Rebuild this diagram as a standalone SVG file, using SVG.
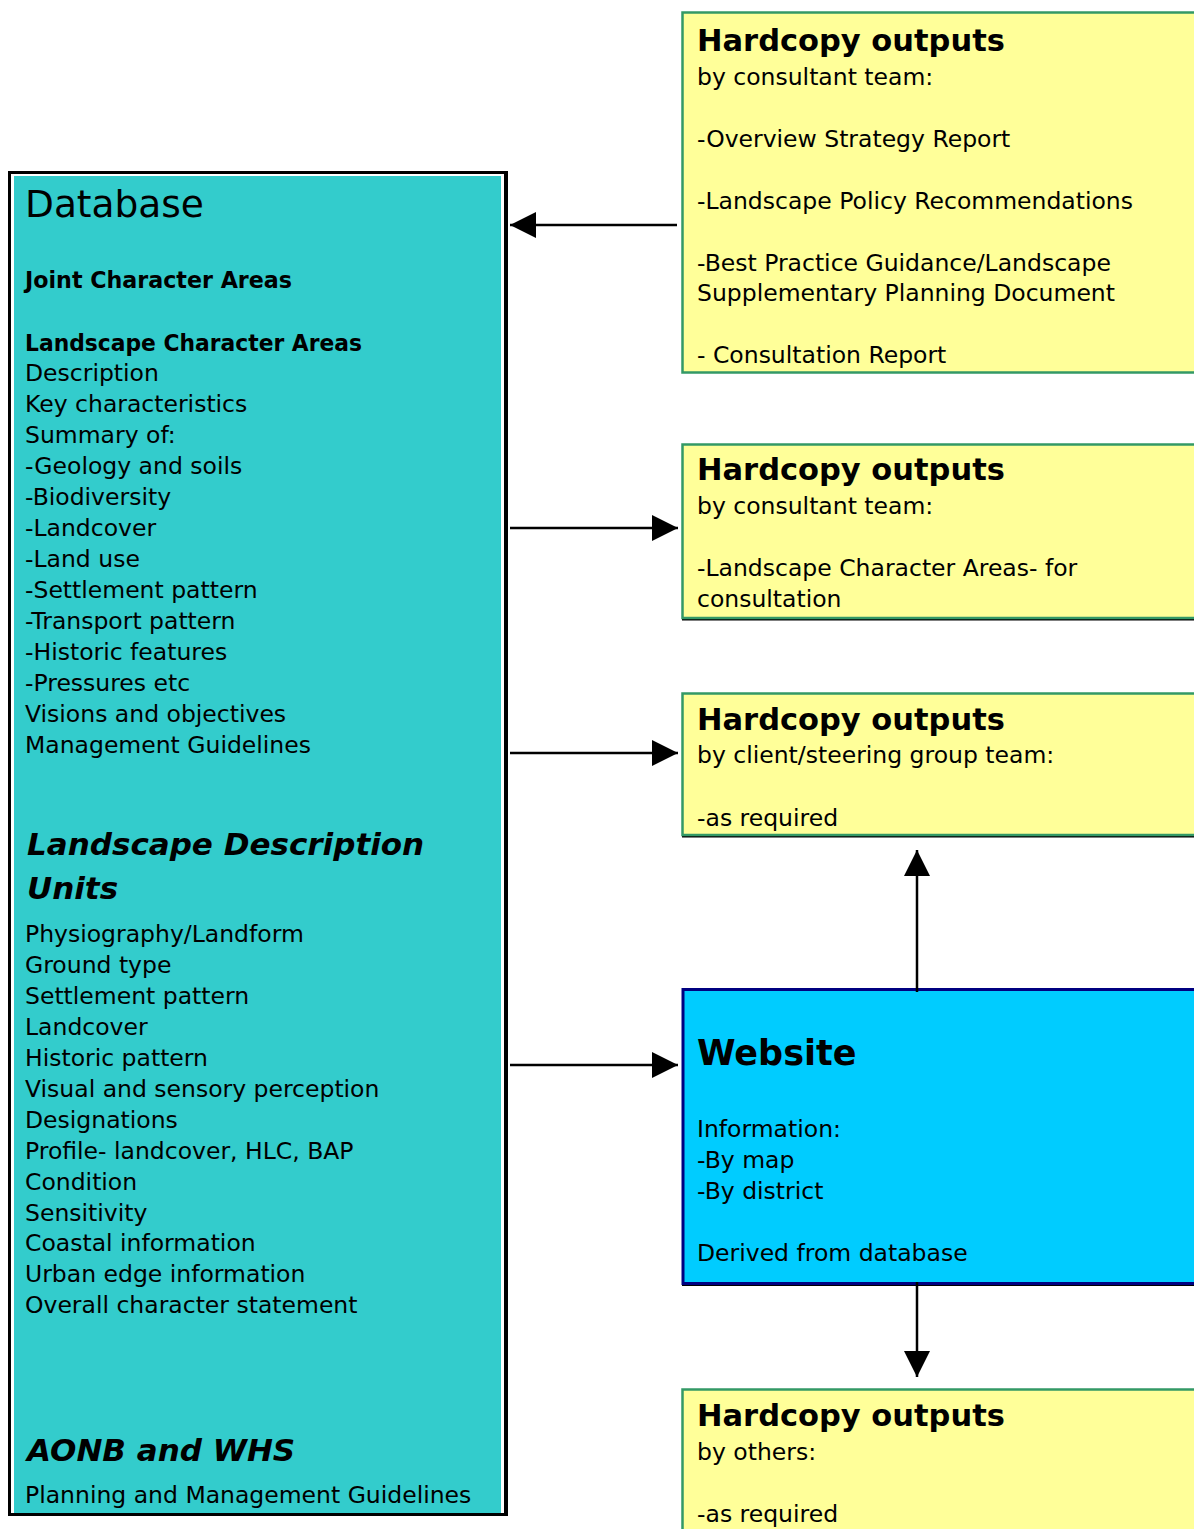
<svg xmlns="http://www.w3.org/2000/svg" width="1194" height="1529" viewBox="0 0 1194 1529">
<defs>
<style>
text{font-family:"DejaVu Sans","Liberation Sans",sans-serif;fill:#000}
.r{font-size:23.5px}
.b{font-size:22.2px;font-weight:bold}
.h{font-size:30.5px;font-weight:bold}
.bi{font-size:31px;font-weight:bold;font-style:italic}
.yel{fill:#FFFF99;stroke:#339966;stroke-width:2.5}
.conn line{stroke:#000;stroke-width:2.5}
</style>
<marker id="ah" markerUnits="userSpaceOnUse" markerWidth="27" markerHeight="27" refX="26" refY="13" orient="auto">
<path d="M0,0 L26,13 L0,26 z" fill="#000"/>
</marker>
</defs>
<rect width="1194" height="1529" fill="#fff"/>

<g id="database">
<rect x="8" y="171" width="500" height="1345" fill="#000"/>
<rect x="11" y="174" width="493" height="1339" fill="#fff"/>
<rect x="14" y="176" width="487" height="1337" fill="#33CCCC"/>
<text x="25" y="217" style="font-size:37.5px">Database</text>
<text x="25" y="288" class="b">Joint Character Areas</text>
<text x="25" y="351" class="b" textLength="337" lengthAdjust="spacingAndGlyphs">Landscape Character Areas</text>
<text class="r">
<tspan x="25" y="381">Description</tspan>
<tspan x="25" y="412">Key characteristics</tspan>
<tspan x="25" y="443">Summary of:</tspan>
<tspan x="25" y="474">-Geology and soils</tspan>
<tspan x="25" y="505">-Biodiversity</tspan>
<tspan x="25" y="536">-Landcover</tspan>
<tspan x="25" y="567">-Land use</tspan>
<tspan x="25" y="598">-Settlement pattern</tspan>
<tspan x="25" y="629">-Transport pattern</tspan>
<tspan x="25" y="660">-Historic features</tspan>
<tspan x="25" y="691">-Pressures etc</tspan>
<tspan x="25" y="722">Visions and objectives</tspan>
<tspan x="25" y="753">Management Guidelines</tspan>
</text>
<text class="bi">
<tspan x="27" y="855">Landscape Description</tspan>
<tspan x="27" y="899">Units</tspan>
</text>
<text x="27" y="1461" class="bi">AONB and WHS</text>
<text class="r">
<tspan x="25" y="942">Physiography/Landform</tspan>
<tspan x="25" y="973">Ground type</tspan>
<tspan x="25" y="1004">Settlement pattern</tspan>
<tspan x="25" y="1035">Landcover</tspan>
<tspan x="25" y="1066">Historic pattern</tspan>
<tspan x="25" y="1097">Visual and sensory perception</tspan>
<tspan x="25" y="1128">Designations</tspan>
<tspan x="25" y="1159">Profile- landcover, HLC, BAP</tspan>
<tspan x="25" y="1190">Condition</tspan>
<tspan x="25" y="1221">Sensitivity</tspan>
<tspan x="25" y="1251">Coastal information</tspan>
<tspan x="25" y="1282">Urban edge information</tspan>
<tspan x="25" y="1313">Overall character statement</tspan>
</text>
<text x="25" y="1503" class="r">Planning and Management Guidelines</text>
</g>

<g id="hardcopy-consultant-1">
<rect x="682.5" y="12.5" width="600" height="360" class="yel"/>
<text x="697" y="51" class="h">Hardcopy outputs</text>
<text class="r">
<tspan x="697" y="85">by consultant team:</tspan>
<tspan x="697" y="147">-Overview Strategy Report</tspan>
<tspan x="697" y="209">-Landscape Policy Recommendations</tspan>
<tspan x="697" y="271">-Best Practice Guidance/Landscape</tspan>
<tspan x="697" y="301">Supplementary Planning Document</tspan>
<tspan x="697" y="363">- Consultation Report</tspan>
</text>
</g>

<g id="hardcopy-consultant-2">
<line x1="682" y1="619.5" x2="1194" y2="619.5" stroke="#000" stroke-width="2"/>
<rect x="682.5" y="444.5" width="600" height="173.5" class="yel"/>
<text x="697" y="480" class="h">Hardcopy outputs</text>
<text class="r">
<tspan x="697" y="514">by consultant team:</tspan>
<tspan x="697" y="576">-Landscape Character Areas- for</tspan>
<tspan x="697" y="607">consultation</tspan>
</text>
</g>

<g id="hardcopy-client">
<line x1="682" y1="836.5" x2="1194" y2="836.5" stroke="#000" stroke-width="2"/>
<rect x="682.5" y="693.5" width="600" height="141.5" class="yel"/>
<text x="697" y="730" class="h">Hardcopy outputs</text>
<text class="r">
<tspan x="697" y="763">by client/steering group team:</tspan>
<tspan x="697" y="826">-as required</tspan>
</text>
</g>

<g id="website">
<line x1="682" y1="1285" x2="1194" y2="1285" stroke="#000" stroke-width="2"/>
<rect x="683" y="989.5" width="600" height="294" fill="#00CCFF" stroke="#000080" stroke-width="3"/>
<text x="697" y="1065" style="font-size:35px;font-weight:bold">Website</text>
<text class="r">
<tspan x="697" y="1137">Information:</tspan>
<tspan x="697" y="1168">-By map</tspan>
<tspan x="697" y="1199">-By district</tspan>
<tspan x="697" y="1261">Derived from database</tspan>
</text>
</g>

<g id="hardcopy-others">
<rect x="682.5" y="1389.5" width="600" height="200" class="yel"/>
<text x="697" y="1426" class="h">Hardcopy outputs</text>
<text class="r">
<tspan x="697" y="1460">by others:</tspan>
<tspan x="697" y="1522">-as required</tspan>
</text>
</g>

<g id="connectors" class="conn">
<line x1="677" y1="225" x2="510" y2="225" marker-end="url(#ah)"/>
<line x1="510" y1="528" x2="678" y2="528" marker-end="url(#ah)"/>
<line x1="510" y1="753" x2="678" y2="753" marker-end="url(#ah)"/>
<line x1="510" y1="1065" x2="678" y2="1065" marker-end="url(#ah)"/>
<line x1="917" y1="992" x2="917" y2="850" marker-end="url(#ah)"/>
<line x1="917" y1="1282" x2="917" y2="1377" marker-end="url(#ah)"/>
</g>
</svg>
